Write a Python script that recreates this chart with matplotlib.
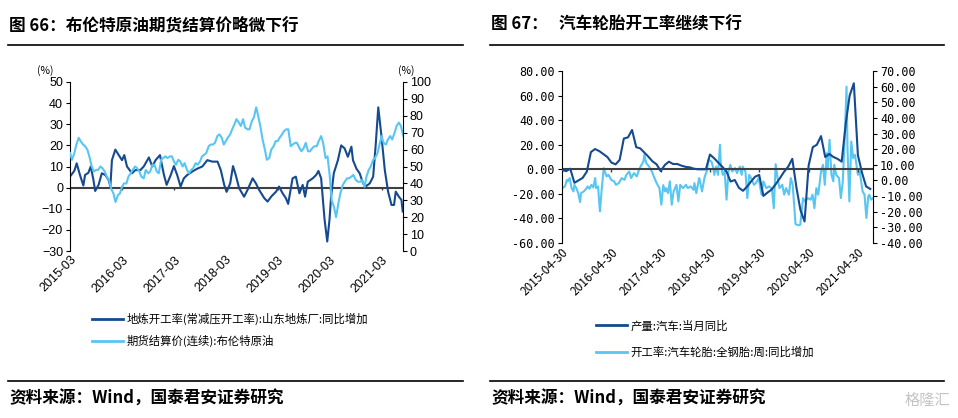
import numpy as np
import pandas as pd
import matplotlib.pyplot as plt
from matplotlib.lines import Line2D

plt.rcParams['font.family'] = ['Noto Sans CJK SC', 'DejaVu Sans']
plt.rcParams['axes.unicode_minus'] = True

DARK = '#154a90'
LIGHT = '#58c6f2'
ZERO = '#404040'

# ---- figure 66: refinery operating rate yoy vs Brent ----
refine_dates = ['2015-03-01', '2015-04-01', '2015-04-17', '2015-05-10', '2015-06-03', '2015-06-15',
                '2015-07-08', '2015-07-25', '2015-08-13', '2015-08-25', '2015-09-18', '2015-10-11',
                '2015-11-04', '2015-11-28', '2015-12-10', '2015-12-21',
                '2016-01-14', '2016-02-07', '2016-03-01', '2016-03-17', '2016-04-05', '2016-05-10',
                '2016-06-03', '2016-07-08', '2016-08-01', '2016-09-06', '2016-09-30', '2016-10-23',
                '2016-11-23', '2016-12-21',
                '2017-01-09', '2017-02-07', '2017-03-01', '2017-03-24', '2017-04-17', '2017-05-10',
                '2017-06-03', '2017-07-08', '2017-08-13', '2017-09-17', '2017-10-22', '2017-11-27',
                '2018-01-02', '2018-01-25', '2018-02-18', '2018-03-07', '2018-04-01', '2018-04-21',
                '2018-05-10', '2018-06-03', '2018-07-08', '2018-08-01', '2018-09-06', '2018-09-29',
                '2018-10-22', '2018-11-27', '2018-12-20',
                '2019-01-18', '2019-02-18', '2019-03-11', '2019-04-05', '2019-04-28', '2019-05-14',
                '2019-06-14', '2019-07-07', '2019-08-01', '2019-08-24', '2019-09-10', '2019-09-29',
                '2019-11-03', '2019-11-27', '2019-12-13',
                '2020-01-01', '2020-01-25', '2020-02-13', '2020-02-29', '2020-03-11', '2020-03-30',
                '2020-04-28', '2020-05-21', '2020-06-14', '2020-07-07', '2020-08-01', '2020-08-12',
                '2020-09-05', '2020-09-28', '2020-10-22', '2020-11-15', '2020-12-08',
                '2021-01-01', '2021-01-18', '2021-02-06', '2021-03-01', '2021-03-24', '2021-04-16',
                '2021-05-10', '2021-05-28', '2021-06-09', '2021-07-01', '2021-07-19', '2021-07-28']
refine_yoy = [5.2, 8, 11.5, 6, 1, 6, 7, 10, 3.6, -1.6, 1.3, 6.8, 6, 3.6, 0.5, 13,
              18, 15.4, 13, 15.4, 10, 6.8, 8.3, 8.3, 10, 14.3, 10, 13, 15.4, 6,
              1.3, 6, 10.2, 6, 0.5, 4.4, 6, 7.6, 9, 10, 13, 12.3,
              12.3, 8.3, 1.3, -2, 2, 10.2, 6, -0.3, -4.3, -1.1, 4.4, 2, -1.1, -5, -6.6,
              -4, -1.9, 0.5, -2.7, -5, -7.7, 4.4, 5.2, -2.7, 1.3, -4.3, 2.8, 4.4, 6, 7.9,
              4.4, -15, -25.5, -15, -4.3, 6.8, 13, 20, 18.6, 14.6, 19.4, 13, 9, 6.8, 2, 0.8, 2,
              5.2, 19.4, 38, 24, 8.3, -1.9, -8.2, -8.2, -1.9, -4.3, -5.8, -11.3]

# Brent settlement, 1st and 15th of each month, 2015-03-01 .. 2021-08-01
brent_start, brent_end = '2015-03-01', '2021-08-01'
brent = [58, 54, 58, 63, 67, 65, 63, 62, 60, 56, 50, 47, 48, 48, 50, 49, 47, 44, 42, 37,
         34, 29, 33, 34, 38, 40, 40, 44, 46, 48, 50, 49, 47, 44, 43, 48, 46, 47, 51, 51, 47, 46, 54, 55,
         56, 55, 56, 56, 53, 51, 54, 53, 50, 52, 48, 46, 48, 49, 52, 51, 53, 56, 57, 58, 62, 63, 63, 64,
         68, 69, 67, 63, 65, 67, 69, 72, 75, 78, 76, 74, 78, 73, 72, 72, 77, 79, 85, 80, 73, 66, 60, 54,
         55, 60, 62, 65, 65, 67, 69, 71, 72, 72, 62, 63, 64, 64, 61, 59, 61, 64, 59, 59, 61, 62, 62, 65,
         68, 64, 55, 56, 45, 30, 26, 20, 28, 34, 39, 41, 43, 43, 44, 45, 42, 41, 41, 42, 38, 44, 48, 50,
         54, 55, 58, 63, 68, 64, 63, 66, 68, 66, 70, 74, 76, 74, 68]
left_ticks = ['2015-03', '2016-03', '2017-03', '2018-03', '2019-03', '2020-03', '2021-03']
left_names = ['地炼开工率(常减压开工率):山东地炼厂:同比增加', '期货结算价(连续):布伦特原油']

# ---- figure 67: auto output yoy vs tyre operating rate yoy ----
auto_start = '2015-04-30'
auto_yoy = [-0.5, -1.5, 0.5, -11, -9, -7, -1.9, 14, 16.5, 14.8,
            12.5, 10, 5.5, 4, 7.6, 25, 26, 32, 18, 17,
            13.5, 10, 6.5, 4, -1.4, 3.5, 6.2, 4.3, 4.3, 3,
            2, 1.6, 0.5, 0, 0, 0, 12, 9, 5.5, 2,
            -1.9, -10, -8.7, -15, -17.5, -14, -10, -6, -4.6, -21.7,
            -19, -16.5, -12, -7.3, -2, 2, 8.5, -15, -33, -42.5,
            3, 18, 20, 27, 10, 12.5, 10, 8.5, 6.2, 38,
            60, 70, 11.6, -3, -14, -16]
tyre_first_week = '2015-05-01'
tyre_week = [0, 3, 5, 6, 8, 10, 12, 13, 15, 17, 19, 20, 23, 26, 27, 29, 31, 33, 35, 36, 38, 40, 42, 44,
             47, 49, 52, 55, 57, 60, 63, 66, 68, 71, 73, 76, 79, 81, 83, 86, 87, 89, 92, 95, 97, 100,
             103, 105, 107, 109, 110, 112, 114, 116, 118, 121, 123, 125, 128, 131, 133, 136, 139, 140,
             142, 145, 146, 148, 151, 153, 155, 158, 160, 161, 163, 165, 167, 168, 170, 172, 174, 176,
             178, 180, 183, 185, 188, 190, 191, 194, 196, 198, 200, 203, 205, 208, 211, 213, 216, 219,
             222, 224, 226, 228, 230, 233, 235, 237, 240, 242, 244, 247, 250, 252, 255, 257, 260, 263,
             265, 267, 269, 271, 274, 276, 278, 280, 281, 283, 285, 287, 288, 290, 293, 295, 297, 299,
             301, 302, 304, 306, 308, 310, 311, 313, 315, 317, 318, 320, 322, 324, 325, 327, 329]
tyre_yoy = [-4.9, -3.8, 0.4, -0.6, 1.5, -4.9, -7, -2.8, -4.9, -8.1, -13.8, -8.1, -7, -4.9, -3.8, -5.3,
            -2.8, -4.5, 1.5, -4.9, -3.8, -19.8, -4.9, 7.9,
            2.6, 3.6, 0.4, -0.6, -2.8, -1.7, 1.5, 0.4, 3.6, 5.7, 1.5, 4.7, 2.6, 6.2, 8.9, 12.1, 16.4,
            11.1, 8.9, 5.7, 2.6, -1.7,
            -5, -15.5, -3, -7, -4.9, -8.1, -0.6, -15.5, -7, -2.8, -13.4, -2.8, -4.9, -2.8, -4.9, -3.8,
            -6, -1.7,
            -8.1, 1.5, -0.6, -7, 2.6, 5.7, 13.2, 12.1, 7.9, 3.6, 8.9, 3.6, 22.8, 10, 3.6, 5.7, -12.3, 5.7,
            10, 5.7, 7.9, 4.7, 8.9, 3.6, 8.9, 5.7, -11.3, 3.6, 1.5, -2.8, -1.7, 1.5, -9.1, -0.6, -4.9, -3.8,
            -5.3, -17.7, 10.4, 1.5, -4.9, -2.8, -9.1, -4.9, -9.1, 1.5, -2.8, -27.9, -28.7, -28.3, -11.3,
            -13.4, -11.3, -12.3,
            -9.1, -17.7, -4.9, -9.1, 5.7, 10, -2.8, 17.4, 7.9, 26, 3.6, -0.6, 10, 3.6, 1.5, -11.3, -0.6, 26,
            60, 20.6, -13.4, 24.9, 14.3, 16.4, 12.1, 3.6, 5.7, -2.8, -7, -9.1, -24, -10.2, -9.1, -12.3, -11.3]
right_ticks = ['2015-04-30', '2016-04-30', '2017-04-30', '2018-04-30', '2019-04-30', '2020-04-30', '2021-04-30']
right_names = ['产量:汽车:当月同比', '开工率:汽车轮胎:全钢胎:周:同比增加']

fig = plt.figure(figsize=(9.58, 4.18), dpi=100)
W, H = 958.0, 418.0


def fx(px):
    return px / W


def fy(py):
    return 1 - py / H


# titles, rules and sources
fig.text(fx(9), fy(25), '图 66：布伦特原油期货结算价略微下行', fontsize=12, fontweight='bold', va='center')
fig.text(fx(491), fy(25), '图 67：   汽车轮胎开工率继续下行', fontsize=12, fontweight='bold', va='center')
for x0, x1 in [(8, 463), (490, 944)]:
    fig.add_artist(Line2D([fx(x0), fx(x1)], [fy(45), fy(45)], color='black', lw=1.2))
    fig.add_artist(Line2D([fx(x0), fx(x1)], [fy(381), fy(381)], color='black', lw=1.2))
    fig.text(fx(x0 + 1), fy(399), '资料来源：Wind，国泰君安证券研究', fontsize=12, fontweight='bold', va='center')
fig.text(fx(950), fy(400), '格隆汇', fontsize=11, color='#c4c4c4', ha='right', va='center')


def style_axes(ax, axr):
    for a in (ax, axr):
        a.spines['top'].set_visible(False)
        a.spines['bottom'].set_visible(False)
        a.tick_params(axis='y', direction='out', length=3, width=0.8, labelsize=8.5, pad=2)
    ax.spines['right'].set_visible(False)
    axr.spines['left'].set_visible(False)
    ax.tick_params(axis='x', length=0, pad=2)


# ---- left chart ----
ax1 = fig.add_axes([fx(70), fy(251), fx(403) - fx(70), fy(82) - fy(251)])
ax1r = ax1.twinx()
style_axes(ax1, ax1r)

ax1.plot(pd.to_datetime(refine_dates), refine_yoy, color=DARK, lw=1.5)
brent_dates = pd.date_range(brent_start, brent_end, freq='SMS')
ax1r.plot(brent_dates, brent, color=LIGHT, lw=1.5)
ax1.axhline(0, color=ZERO, lw=1.5, zorder=1)

lt = pd.to_datetime(left_ticks)
ax1.vlines(lt, -1.3, 0, color=ZERO, lw=1)
ax1.set_xticks(lt)
ax1.set_xticklabels(left_ticks, rotation=45, ha='right', rotation_mode='anchor',
                    family='Liberation Sans', fontsize=9)
ax1.set_xlim(pd.Timestamp('2015-03-01'), pd.Timestamp('2021-07-30'))
ax1.set_ylim(-30, 50)
ax1.set_yticks(np.arange(-30, 51, 10))
ax1r.set_ylim(0, 100)
ax1r.set_yticks(np.arange(0, 101, 10))
for lab in ax1.get_yticklabels() + ax1r.get_yticklabels():
    lab.set_family('Liberation Sans')
    lab.set_fontsize(9)
ax1.text(-0.075, 1.07, '(%)', transform=ax1.transAxes, fontsize=7.5, ha='center', va='center')
ax1r.text(1.01, 1.07, '(%)', transform=ax1.transAxes, fontsize=7.5, ha='center', va='center')

h = [Line2D([], [], color=DARK, lw=2), Line2D([], [], color=LIGHT, lw=2)]
fig.legend(h, left_names, loc='upper left', bbox_to_anchor=(fx(92), fy(313)), frameon=False,
           fontsize=8.2, handlelength=2.7, handletextpad=0.35, labelspacing=0.85, borderpad=0,
           borderaxespad=0)

# ---- right chart ----
ax2 = fig.add_axes([fx(562), fy(243), fx(873) - fx(562), fy(71) - fy(243)])
ax2r = ax2.twinx()
style_axes(ax2, ax2r)

auto_dates = pd.date_range(auto_start, periods=len(auto_yoy), freq='ME')
ax2.plot(auto_dates, auto_yoy, color=DARK, lw=1.5, zorder=3)
tyre_dates = pd.Timestamp(tyre_first_week) + pd.to_timedelta(np.array(tyre_week) * 7, unit='D')
ax2r.plot(tyre_dates, tyre_yoy, color=LIGHT, lw=1.5)
ax2.axhline(0, color=ZERO, lw=1.5, zorder=1)

rt = pd.to_datetime(right_ticks)
ax2.vlines(rt, -2.2, 0, color=ZERO, lw=1)
ax2.set_xticks(rt)
ax2.set_xticklabels(right_ticks, rotation=45, ha='right', rotation_mode='anchor', fontsize=8.5)
ax2.set_xlim(pd.Timestamp('2015-04-30'), pd.Timestamp('2021-08-20'))
ax2.set_ylim(-60, 80)
ax2.set_yticks(np.arange(-60, 81, 20))
ax2.set_yticklabels([f'{v:.2f}' for v in np.arange(-60, 81, 20)], family='DejaVu Sans Mono', fontsize=8.5)
ax2r.set_ylim(-40, 70)
ax2r.set_yticks(np.arange(-40, 71, 10))
ax2r.set_yticklabels([f'{v:.2f}' for v in np.arange(-40, 71, 10)], family='DejaVu Sans Mono', fontsize=8.5)
ax2.set_zorder(ax2r.get_zorder() + 1)
ax2.patch.set_visible(False)

h2 = [Line2D([], [], color=DARK, lw=2), Line2D([], [], color=LIGHT, lw=2)]
fig.legend(h2, right_names, loc='upper left', bbox_to_anchor=(fx(596), fy(320)), frameon=False,
           fontsize=8.2, handlelength=2.7, handletextpad=0.35, labelspacing=1.35, borderpad=0,
           borderaxespad=0)

fig.savefig('out.png', dpi=100)
